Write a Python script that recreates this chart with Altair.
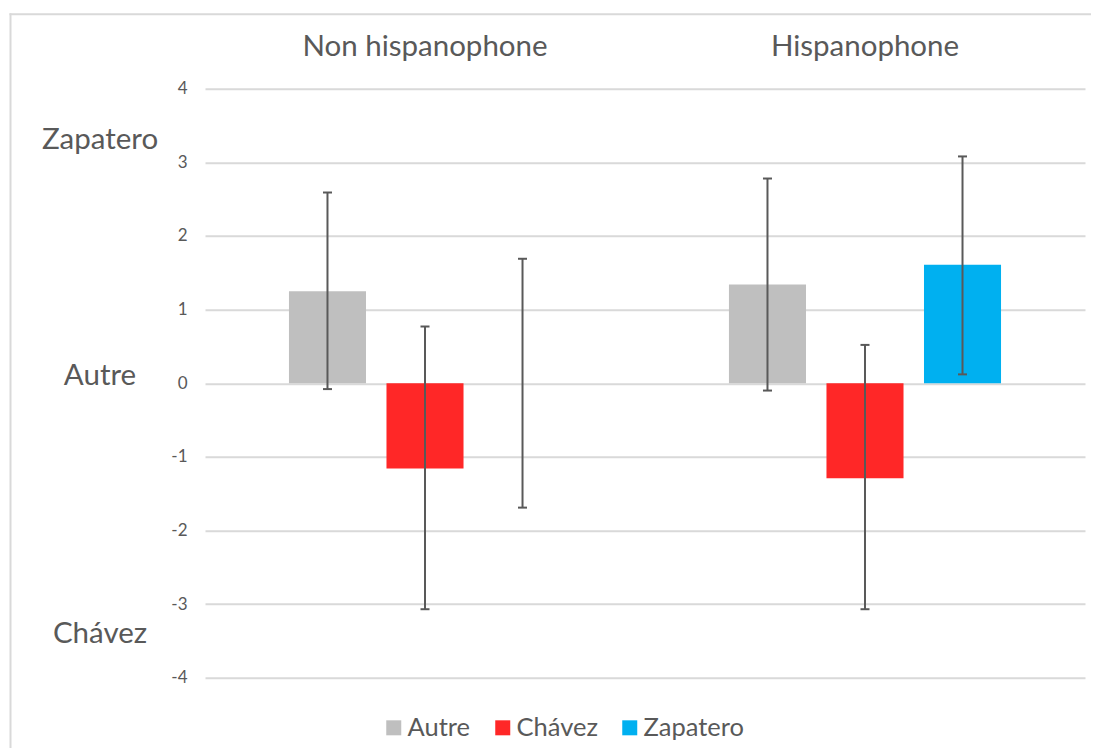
import altair as alt
import pandas as pd

# ---- data ----
group_order = ["Non hispanophone", "Hispanophone"]
series_order = ["Autre", "Chávez", "Zapatero"]
series_colors = ["#BFBFBF", "#FF2727", "#00B0F0"]

groups = ["Non hispanophone"] * 3 + ["Hispanophone"] * 3
series = ["Autre", "Chávez", "Zapatero"] * 2
means = [1.25, -1.16, 0.0, 1.34, -1.29, 1.61]
err_low = [-0.08, -3.07, -1.69, -0.10, -3.07, 0.12]
err_high = [2.59, 0.77, 1.69, 2.78, 0.52, 3.08]

y_ticks = [-4, -3, -2, -1, 0, 1, 2, 3, 4]

side_labels = ["Zapatero", "Autre", "Chávez"]
side_label_values = [3.30, 0.10, -3.40]

FONT = "Lato"
TXT = "#595959"

df = pd.DataFrame({
    "groupe": groups,
    "serie": series,
    "moyenne": means,
    "bas": err_low,
    "haut": err_high,
})
side_df = pd.DataFrame({"label": side_labels, "pos": side_label_values})
frame_df = pd.DataFrame({"k": [0]})

y_scale = alt.Scale(domain=[-4, 4], nice=False, zero=False)
y_axis = alt.Axis(values=y_ticks, title=None, grid=True, gridColor="#D9D9D9",
                  gridWidth=2, domain=False, ticks=False, labelFontSize=17,
                  labelPadding=18, labelColor=TXT, labelFont=FONT,
                  labelExpr="'' + datum.value")

x_enc = alt.X("groupe:N", sort=group_order,
              scale=alt.Scale(paddingInner=0, paddingOuter=0),
              axis=alt.Axis(orient="top", title=None, ticks=False, tickSize=0,
                            domain=False, labelAngle=0, labelFontSize=29.5,
                            labelColor=TXT, labelFont=FONT, labelPadding=33,
                            labelBaseline="alphabetic", labelLimit=0))
xoff_enc = alt.XOffset("serie:N", sort=series_order,
                       scale=alt.Scale(paddingInner=0.21, paddingOuter=0.861))

def Y(field):
    return alt.Y(field, scale=y_scale, axis=y_axis)

frame_top = alt.Chart(frame_df).mark_rect(color="#D9D9D9", strokeWidth=0).encode(
    x=alt.value(-195.5), x2=alt.value(886), y=alt.value(-75.4), y2=alt.value(-73.4)
)
frame_left = alt.Chart(frame_df).mark_rule(color="#D9D9D9", strokeWidth=2).encode(
    x=alt.value(-194.5), y=alt.value(-75.4), y2=alt.value(680)
)

bars = alt.Chart(df).mark_bar().encode(
    x=x_enc,
    xOffset=xoff_enc,
    y=Y("moyenne:Q"),
    color=alt.Color("serie:N", sort=series_order,
                    scale=alt.Scale(domain=series_order, range=series_colors),
                    legend=alt.Legend(orient="none", legendX=176, legendY=626,
                                      direction="horizontal", title=None,
                                      symbolType="square", symbolSize=225,
                                      symbolStrokeWidth=0, symbolOpacity=1,
                                      labelFontSize=25.5, labelColor=TXT,
                                      labelFont=FONT, columnPadding=19,
                                      labelOffset=1)),
)

rules = alt.Chart(df).mark_rule(color="#595959", strokeWidth=2).encode(
    x=x_enc, xOffset=xoff_enc, y=Y("bas:Q"), y2="haut:Q"
)
caps_low = alt.Chart(df).mark_tick(color="#595959", thickness=2, size=9, opacity=1).encode(
    x=x_enc, xOffset=xoff_enc, y=Y("bas:Q")
)
caps_high = alt.Chart(df).mark_tick(color="#595959", thickness=2, size=9, opacity=1).encode(
    x=x_enc, xOffset=xoff_enc, y=Y("haut:Q")
)

side = alt.Chart(side_df).mark_text(font=FONT, fontSize=29.5, color=TXT,
                                    align="center", baseline="middle").encode(
    y=Y("pos:Q"), x=alt.value(-105), text="label:N"
)

chart = alt.layer(frame_top, frame_left, bars, rules, caps_low, caps_high, side).properties(
    width=880, height=589,
    padding={"left": 197, "top": 80.7, "right": 6, "bottom": 70},
    autosize="none",
    background="white",
).configure_view(stroke=None)

chart.save("out.html", embed_options={"renderer": "svg", "actions": False})
